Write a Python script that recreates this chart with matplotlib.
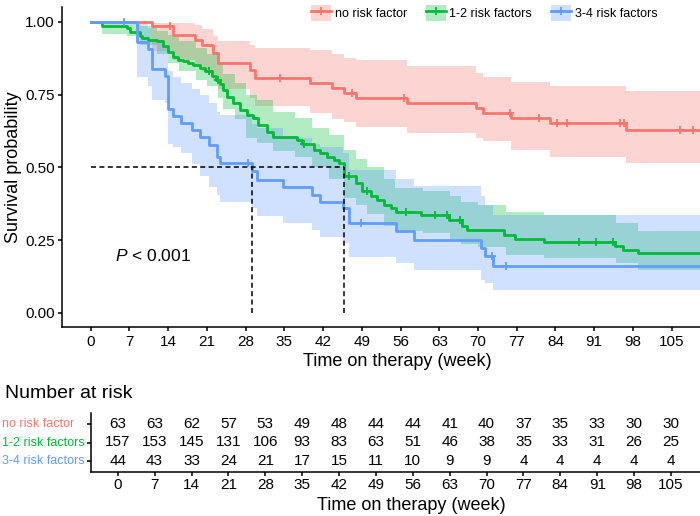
import numpy as np
import matplotlib
matplotlib.use('Agg')
import matplotlib.pyplot as plt
from matplotlib import transforms
from matplotlib.patches import Patch
from matplotlib.lines import Line2D
from matplotlib.legend_handler import HandlerTuple

plt.rcParams['font.family'] = ['Liberation Sans', 'DejaVu Sans']
plt.rcParams['mathtext.fontset'] = 'custom'
plt.rcParams['mathtext.rm'] = 'Liberation Sans'
plt.rcParams['mathtext.it'] = 'Liberation Sans:italic'

# ---- data ----
groups = ['no risk factor', '1-2 risk factors', '3-4 risk factors']
colors = ['#F8766D', '#00BA38', '#619CFF']

red_t = [0, 11, 14.9, 18.9, 20.1, 22.1, 23, 28.8, 29.7, 39.7, 43.7, 45.7, 48, 57.1, 69.6, 70.9, 76, 83, 96.7]
red_s = [1, 0.985, 0.955, 0.938, 0.921, 0.892, 0.858, 0.835, 0.806, 0.791, 0.772, 0.755, 0.738, 0.721, 0.704, 0.686, 0.669, 0.652, 0.629]
red_lo = [1, 0.90, 0.87, 0.85, 0.83, 0.80, 0.77, 0.74, 0.712, 0.687, 0.665, 0.657, 0.64, 0.619, 0.60, 0.592, 0.56, 0.537, 0.516]
red_hi = [1, 0.998, 0.995, 0.99, 0.975, 0.95, 0.935, 0.92, 0.91, 0.905, 0.89, 0.876, 0.87, 0.847, 0.825, 0.812, 0.795, 0.78, 0.763]
red_cens = [14.3, 34.3, 47.3, 56.6, 75.8, 81, 84.2, 86, 95.6, 96.3, 106.6, 108.8]

green_t = [0, 2, 6.5, 7.1, 8.9, 9.2, 10.4, 11.9, 13.1, 14, 14.9, 15.8, 16.7, 17.6, 18.5, 19.8, 20.6, 22, 22.6, 23.4,
           24, 24.6, 25.8, 27, 28.3, 29.4, 30.3, 31.9, 33, 37.3, 38.2, 40.3, 41.5, 42.8, 43.9, 44.8, 45.8, 47.9, 49.1, 50.6,
           51.8, 53, 54.2, 55.1, 59.7, 64.8, 67.2, 68.1, 74.7, 76.6, 82, 94.7, 96.2, 99]
green_s = [1, 0.987, 0.978, 0.967, 0.952, 0.944, 0.938, 0.933, 0.916, 0.898, 0.881, 0.869, 0.864, 0.858, 0.852, 0.841, 0.833, 0.815, 0.8, 0.785,
           0.765, 0.743, 0.72, 0.698, 0.68, 0.67, 0.646, 0.622, 0.605, 0.595, 0.58, 0.56, 0.55, 0.536, 0.526, 0.515, 0.469, 0.447, 0.417, 0.4,
           0.388, 0.371, 0.36, 0.348, 0.337, 0.32, 0.297, 0.283, 0.268, 0.253, 0.245, 0.228, 0.216, 0.205]
green_ci_t = [0, 2, 6.5, 9, 12, 14, 16, 19, 21, 23, 24, 26, 28, 30, 33, 37, 40, 43, 45.8, 48, 50, 53, 55, 60, 65, 67, 70, 75, 82, 95, 99]
green_hi = [1, 1.0, 0.995, 0.985, 0.97, 0.955, 0.935, 0.91, 0.89, 0.86, 0.82, 0.79, 0.75, 0.73, 0.69, 0.67, 0.635, 0.61, 0.56, 0.53,
            0.50, 0.46, 0.43, 0.42, 0.40, 0.38, 0.37, 0.345, 0.335, 0.31, 0.28]
green_lo = [1, 0.96, 0.95, 0.92, 0.89, 0.86, 0.83, 0.80, 0.78, 0.74, 0.70, 0.665, 0.60, 0.585, 0.555, 0.535, 0.50, 0.46, 0.395, 0.37,
            0.34, 0.30, 0.28, 0.275, 0.255, 0.235, 0.225, 0.20, 0.19, 0.17, 0.148]
green_cens = [21.3, 23.1, 38.5, 46.6, 49.9, 57, 62.3, 64.4, 66.7, 88.3, 91.4, 94.4]

blue_t = [0, 8.3, 10.4, 11, 13.4, 14, 14.9, 16.4, 18.3, 19.8, 21.3, 22.8, 23.4, 29.1, 30, 34.8, 40, 41.4, 45.6, 46.7,
          55.1, 58.5, 70.5, 71.2, 72.8]
blue_s = [1, 0.932, 0.907, 0.837, 0.814, 0.70, 0.677, 0.654, 0.63, 0.606, 0.577, 0.537, 0.514, 0.486, 0.457, 0.434, 0.405, 0.382, 0.36, 0.308,
          0.28, 0.25, 0.222, 0.196, 0.162]
blue_hi = [1, 1.0, 0.98, 0.93, 0.92, 0.83, 0.81, 0.79, 0.77, 0.75, 0.72, 0.69, 0.68, 0.65, 0.636, 0.60, 0.58, 0.57, 0.55, 0.49,
           0.46, 0.435, 0.40, 0.371, 0.337]
blue_lo = [1, 0.81, 0.78, 0.73, 0.72, 0.58, 0.57, 0.55, 0.51, 0.47, 0.433, 0.405, 0.382, 0.36, 0.331, 0.308, 0.285, 0.262, 0.24, 0.193,
           0.171, 0.148, 0.113, 0.103, 0.079]
blue_cens = [6, 28.5, 48.8, 72.5, 75.1]

time_ticks = list(range(0, 106, 7))
at_risk = [
    [63, 63, 62, 57, 53, 49, 48, 44, 44, 41, 40, 37, 35, 33, 30, 30],
    [157, 153, 145, 131, 106, 93, 83, 63, 51, 46, 38, 35, 33, 31, 26, 25],
    [44, 43, 33, 24, 21, 17, 15, 11, 10, 9, 9, 4, 4, 4, 4, 4],
]
t_end = 112

# ---- layout (pixel boxes of the 700x516 picture) ----
W, H = 700, 516
XL = (-5.13, 116)


def px_box(left, top, right, bottom):
    return [left / W, 1 - bottom / H, (right - left) / W, (bottom - top) / H]


def style_axis(ax):
    for side in ['top', 'right']:
        ax.spines[side].set_visible(False)
    for side in ['left', 'bottom']:
        ax.spines[side].set_linewidth(1.1)
        ax.spines[side].set_color('black')
    ax.tick_params(width=1.1, length=2.9, colors='black', labelsize=11)


fig = plt.figure(figsize=(7, 5.16), dpi=100)
ax = fig.add_axes(px_box(62.3, 7.4, 732.5, 327.3))
style_axis(ax)

curves = [
    (red_t, red_s, red_t, red_lo, red_hi, red_cens),
    (green_t, green_s, green_ci_t, green_lo, green_hi, green_cens),
    (blue_t, blue_s, blue_t, blue_lo, blue_hi, blue_cens),
]

for (t, s, ct, lo, hi, cens), c in zip(curves, colors):
    ct_ext = np.append(ct, t_end)
    ax.fill_between(ct_ext, np.append(lo, lo[-1]), np.append(hi, hi[-1]),
                    step='post', color=c, alpha=0.3, lw=0)

medians = []
for (t, s, ct, lo, hi, cens), c in zip(curves, colors):
    t = np.array(t)
    s = np.array(s)
    ax.step(np.append(t, t_end), np.append(s, s[-1]), where='post', color=c, lw=2)
    idx = np.searchsorted(t, cens, side='right') - 1
    ax.plot(cens, s[idx], ls='none', marker='+', ms=6, mew=1.3, color=c)
    below = np.where(s <= 0.5)[0]
    if len(below):
        medians.append(t[below[0]])

dash = dict(color='black', lw=1.1, dashes=(3.3, 2.2))
ax.plot([0, max(medians)], [0.5, 0.5], **dash)
for m in medians:
    ax.plot([m, m], [0, 0.5], **dash)

ax.set_xlim(*XL)
ax.set_ylim(-0.05, 1.05)
ax.set_xticks(time_ticks)
ax.set_yticks([0, 0.25, 0.5, 0.75, 1.0])
ax.set_yticklabels(['0.00', '0.25', '0.50', '0.75', '1.00'])
ax.tick_params(axis='x', pad=2.5)
ax.tick_params(axis='y', pad=2.4)

ax.text(4.4, 0.195, r'$\mathit{P}$ < 0.001', fontsize=12.5, va='center', ha='left')

fig.text(14 / W, 1 - 167 / H, 'Survival probability', rotation=90, ha='center', va='center', fontsize=13)
fig.text(397 / W, 1 - 366.5 / H, 'Time on therapy (week)', ha='center', va='baseline', fontsize=13)

handles = [(Patch(facecolor=c, alpha=0.3, lw=0), Line2D([], [], color=c, lw=2, marker='+', ms=6, mew=1.3))
           for c in colors]
fig.legend(handles, groups, loc='center', bbox_to_anchor=(484 / W, 1 - 13 / H), ncol=3, frameon=False,
           fontsize=9, handlelength=1.6, handleheight=1.6, handletextpad=0.3, columnspacing=1.5,
           borderpad=0, borderaxespad=0, handler_map={tuple: HandlerTuple(ndivide=1)})

# ---- risk table ----
ax2 = fig.add_axes(px_box(90.7, 413, 729, 472))
style_axis(ax2)
ax2.set_xlim(*XL)
ax2.set_ylim(0.4, 3.6)
ax2.set_xticks(time_ticks)
ax2.tick_params(axis='x', pad=1.5)
rows = [3, 2, 1]
ax2.set_yticks(rows)
ax2.set_yticklabels([])
label_tr = transforms.blended_transform_factory(fig.transFigure, ax2.transData)
for name, c, row, counts in zip(groups, colors, rows, at_risk):
    ax2.text(1.7 / W, row, name, transform=label_tr, ha='left', va='center', fontsize=9, color=c)
    for tt, n in zip(time_ticks, counts):
        ax2.text(tt, row, str(n), ha='center', va='center', fontsize=11)

fig.text(5 / W, 1 - 394 / H, 'Number at risk', ha='left', va='center', fontsize=14)
fig.text(411.5 / W, 1 - 510 / H, 'Time on therapy (week)', ha='center', va='baseline', fontsize=13)

fig.savefig('out.png', dpi=100)
